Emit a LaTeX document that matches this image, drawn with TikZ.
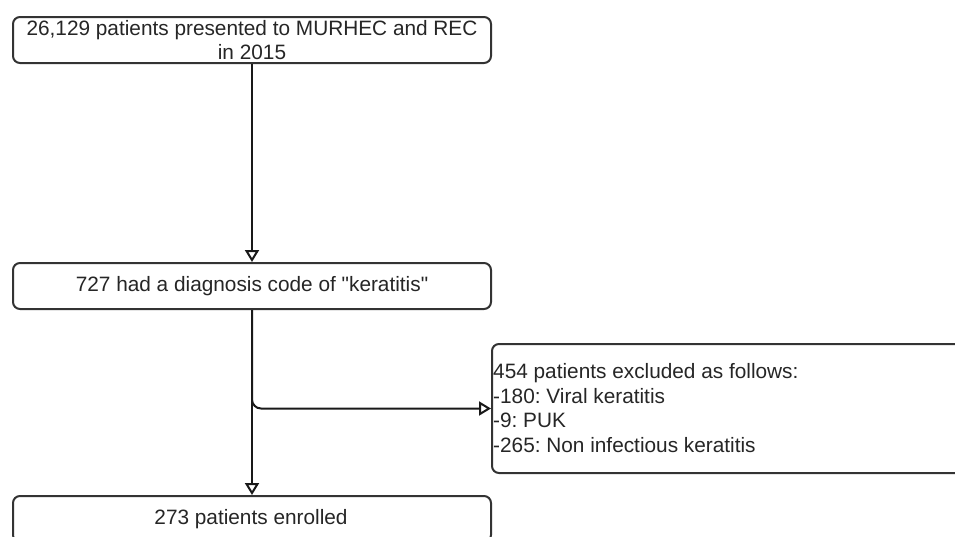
\documentclass[tikz,border=0pt]{standalone}
\usepackage{fontspec}
\setmainfont{Liberation Sans}
\usetikzlibrary{arrows.meta}
\frenchspacing
\begin{document}
\begin{tikzpicture}[x=1pt,y=-1pt,
  txt/.style={font=\fontsize{20.8}{24.5}\selectfont, text=black!85},
  box/.style={draw=black!80, line width=2pt, rounded corners=7pt, fill=white,
    inner sep=0pt, txt},
  flow/.style={line width=2pt, draw=black!90,
    -{Triangle[open, length=12pt, width=14pt, line width=2pt]}}]
\useasboundingbox (0,0) rectangle (955,536);
\clip (0,0) rectangle (955,536);

\node[box, minimum width=478pt, minimum height=46pt, align=center, anchor=north west]
  (start) at (12,16) {26,129 patients presented to MURHEC and REC\\in 2015};
\node[box, minimum width=478pt, minimum height=46pt, anchor=north west]
  (diag) at (12,262) {727 had a diagnosis code of \textquotedbl keratitis\textquotedbl};
\node[box, minimum width=478pt, minimum height=46pt, anchor=north west]
  (enrol) at (12,495) {};
\node[txt, anchor=center, inner sep=0pt] (enroltxt) at (251,519) {273 patients enrolled};
\node[box, minimum width=490pt, minimum height=129pt, anchor=north west]
  (excl) at (491,343) {};
\node[txt, anchor=west, align=left, inner sep=0pt]
  (excltxt) at (493,408) {454 patients excluded as follows:\\-180: Viral keratitis\\-9: PUK\\-265: Non infectious keratitis};

\draw[flow] (start.south) -- (diag.north);
\draw[flow] (diag.south) -- (enrol.north);
\draw[flow, rounded corners=9pt] (diag.south) |- (excl.west);
\end{tikzpicture}
\end{document}
